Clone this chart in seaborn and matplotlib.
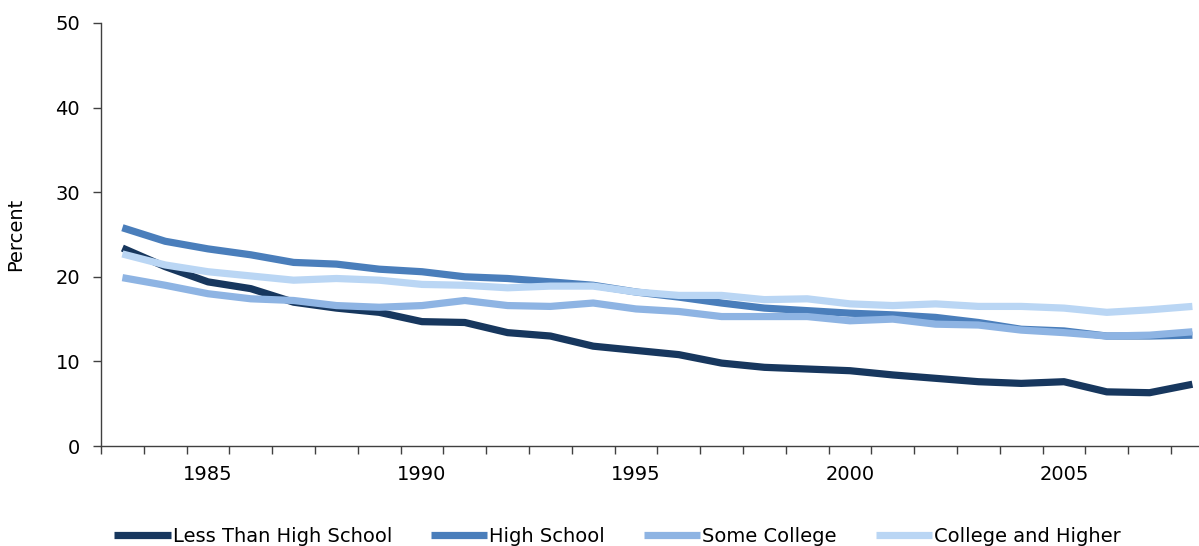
import numpy as np
import pandas as pd
import matplotlib
matplotlib.use("Agg")
import matplotlib.pyplot as plt
import seaborn as sns
from matplotlib.ticker import MultipleLocator, FixedLocator

years = list(range(1983, 2009))

less_than_hs = [23.4, 21.2, 19.4, 18.6, 17.0, 16.3, 15.8, 14.7, 14.6, 13.4, 13.0, 11.8,
                11.3, 10.8, 9.8, 9.3, 9.1, 8.9, 8.4, 8.0, 7.6, 7.4, 7.6, 6.4, 6.3, 7.3]
high_school = [25.8, 24.2, 23.3, 22.6, 21.7, 21.5, 20.9, 20.6, 20.0, 19.8, 19.4, 19.0,
               18.2, 17.6, 16.9, 16.3, 16.0, 15.7, 15.5, 15.2, 14.6, 13.8, 13.6, 13.0, 13.0, 13.1]
some_college = [19.9, 19.0, 18.0, 17.4, 17.2, 16.6, 16.4, 16.6, 17.2, 16.6, 16.5, 16.9,
                16.2, 15.9, 15.3, 15.3, 15.3, 14.8, 15.0, 14.4, 14.3, 13.7, 13.4, 13.0, 13.1, 13.5]
college_higher = [22.7, 21.4, 20.6, 20.1, 19.6, 19.8, 19.6, 19.1, 19.0, 18.7, 18.9, 18.9,
                  18.2, 17.8, 17.8, 17.3, 17.4, 16.8, 16.6, 16.8, 16.5, 16.5, 16.3, 15.8, 16.1, 16.5]

series = {
    "Less Than High School": less_than_hs,
    "High School": high_school,
    "Some College": some_college,
    "College and Higher": college_higher,
}
colors = ["#17375E", "#4A7EBB", "#8EB4E3", "#BAD6F4"]

df = pd.DataFrame({"Year": years, **series}).melt(
    id_vars="Year", var_name="Group", value_name="Percent")

sns.set_style("ticks")
plt.rcParams["font.family"] = ["DejaVu Sans"]
plt.rcParams["text.color"] = "black"
plt.rcParams["xtick.color"] = "black"
plt.rcParams["ytick.color"] = "black"
plt.rcParams["axes.labelcolor"] = "black"

fig = plt.figure(figsize=(11.99, 5.46), dpi=100)
ax = fig.add_axes([101 / 1199, 1 - 446 / 546, 1 - 101 / 1199, (446 - 23) / 546])

sns.lineplot(data=df, x="Year", y="Percent", hue="Group", palette=colors,
             linewidth=5.2, ax=ax, legend=True)
for line in ax.lines:
    line.set_solid_joinstyle("round")
    line.set_solid_capstyle("butt")

ax.set_xlim(1982.5, 1982.5 + 1098 / 42.8)
ax.set_ylim(0, 50)
ax.yaxis.set_major_locator(MultipleLocator(10))
ax.xaxis.set_major_locator(FixedLocator([1985, 1990, 1995, 2000, 2005]))
ax.xaxis.set_minor_locator(FixedLocator(np.arange(1982.5, 2009, 1)))
ax.tick_params(axis="x", which="major", length=0, pad=14, labelsize=14)
ax.tick_params(axis="x", which="minor", length=6, width=1, color="#404040")
ax.tick_params(axis="y", length=6, width=1, color="#404040", labelsize=14, pad=9)
ax.set_xlabel("")
ax.set_ylabel("Percent", fontsize=14, labelpad=22)
sns.despine(ax=ax)
for s in ("left", "bottom"):
    ax.spines[s].set_color("#404040")
    ax.spines[s].set_linewidth(1)

handles, labels = ax.get_legend_handles_labels()
ax.get_legend().remove()
leg = fig.legend(handles, labels, loc="lower center", ncol=4, frameon=False,
                 bbox_to_anchor=(0.515, -0.032), fontsize=14, handlelength=2.9,
                 handletextpad=0.1, columnspacing=2.0)
for h in leg.legend_handles:
    h.set_solid_capstyle("butt")

fig.savefig("out.png", dpi=100)
